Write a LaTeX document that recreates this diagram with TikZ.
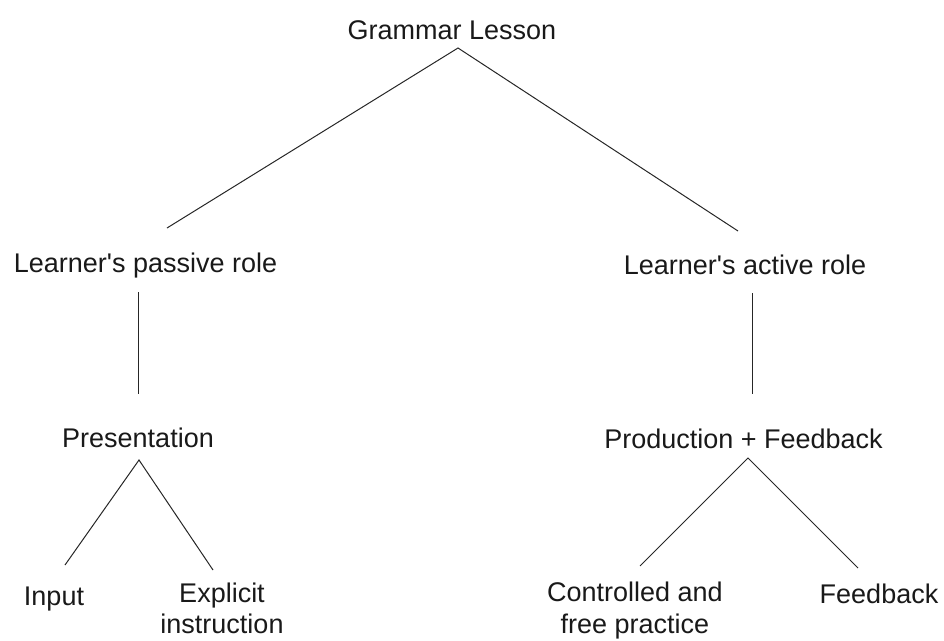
\documentclass[tikz,border=0pt]{standalone}
\usepackage{fontspec}
\setmainfont{Liberation Sans}
\begin{document}
\begin{tikzpicture}[x=1pt,y=-1pt,
  lbl/.style={anchor=base,inner sep=0pt,align=center,font=\fontsize{27}{32}\selectfont,text=black!90},
  conn/.style={line width=1pt,draw=black!85}]
\useasboundingbox (0,0) rectangle (944,640);
% nodes
\node[lbl] (gl) at (452,39) {Grammar Lesson};
\node[lbl] (lp) at (145.5,272) {Learner\textquotesingle s passive role};
\node[lbl] (la) at (745,274) {Learner\textquotesingle s active role};
\node[lbl] (pr) at (138,447) {Presentation};
\node[lbl] (pf) at (743.5,448) {Production + Feedback};
\node[lbl] (in) at (54,605) {Input};
\node[lbl] (ex) at (222,633) {Explicit\\[-1pt]instruction};
\node[lbl] (cf) at (635,633) {Controlled and\\free practice};
\node[lbl] (fb) at (879,603) {Feedback};
% connector end points
\coordinate (gl-s) at (458,48);
\coordinate (lp-n) at (167,228);
\coordinate (la-n) at (738,231);
\coordinate (lp-s) at (138,292);
\coordinate (pr-n) at (138,394);
\coordinate (la-s) at (752,293);
\coordinate (pf-n) at (752,394);
\coordinate (pr-s) at (139,460);
\coordinate (in-n) at (65,565);
\coordinate (ex-n) at (213,570);
\coordinate (pf-s) at (748,458);
\coordinate (cf-n) at (640,566);
\coordinate (fb-n) at (858,568);
% connectors
\draw[conn] (lp-n) -- (gl-s) -- (la-n);
\draw[conn] (lp-s) -- (pr-n);
\draw[conn] (la-s) -- (pf-n);
\draw[conn] (in-n) -- (pr-s) -- (ex-n);
\draw[conn] (cf-n) -- (pf-s) -- (fb-n);
\end{tikzpicture}
\end{document}
